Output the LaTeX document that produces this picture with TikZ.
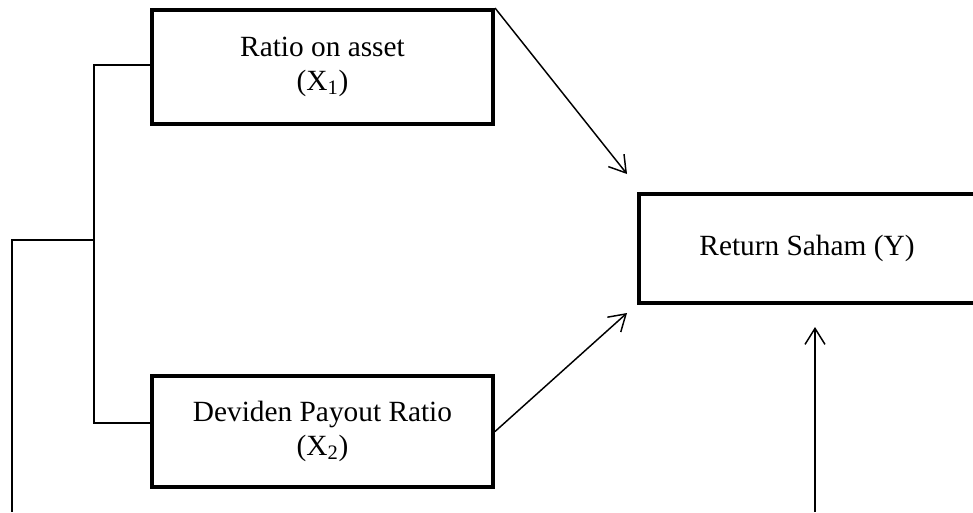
\documentclass[tikz,border=0pt]{standalone}
\usepackage{fontspec}
\setmainfont{Liberation Serif}
\usetikzlibrary{arrows.meta,calc}
\begin{document}
\begin{tikzpicture}[x=0.75pt,y=-0.75pt,
  box/.style={draw=black,line width=3pt,rectangle,inner sep=0pt,align=center,
    font=\fontsize{22}{25.5}\selectfont},
  thin/.style={draw=black,line width=1.1pt},
  arr/.style={thin,-{Straight Barb[length=12pt,width=15pt,line width=1.1pt]}}]
\useasboundingbox (0,0) rectangle (973,512);
\node[box,minimum width=255.75pt,minimum height=85.5pt] (b1) at (322.5,67)
  {\raisebox{2.9pt}{\begin{tabular}{@{}c@{}}Ratio on asset\\(X\textsubscript{1})\end{tabular}}};
\node[box,minimum width=255.75pt,minimum height=83.25pt] (b2) at (322.5,431.5)
  {\raisebox{-2pt}{\begin{tabular}{@{}c@{}}Deviden Payout Ratio\\(X\textsubscript{2})\end{tabular}}};
\node[box,minimum width=252pt,minimum height=81.75pt] (y) at (807,248.5)
  {\raisebox{-5pt}{Return Saham (Y)}};
% left bracket
\coordinate (ja) at (94,65);
\coordinate (jb) at (94,423);
\coordinate (jm) at (94,240);
\coordinate (jl) at (12,240);
\coordinate (jend) at (12,512);
\draw[thin] (b1.west|-ja) -- (ja) -- (jb) -- (b2.west|-jb);
\draw[thin] (jm) -- (jl) -- (jend);
% arrows
\coordinate (ya) at ($(y.north west)+(-10,-18)$);
\coordinate (yb) at ($(y.south west)+(-10,8)$);
\coordinate (vt) at ($(y.south)+(8,22)$);
\coordinate (vb) at (815,512);
\draw[arr] (b1.north east) -- (ya);
\draw[arr] (b2.east) -- (yb);
\draw[arr] (vb) -- (vt);
\end{tikzpicture}
\end{document}
